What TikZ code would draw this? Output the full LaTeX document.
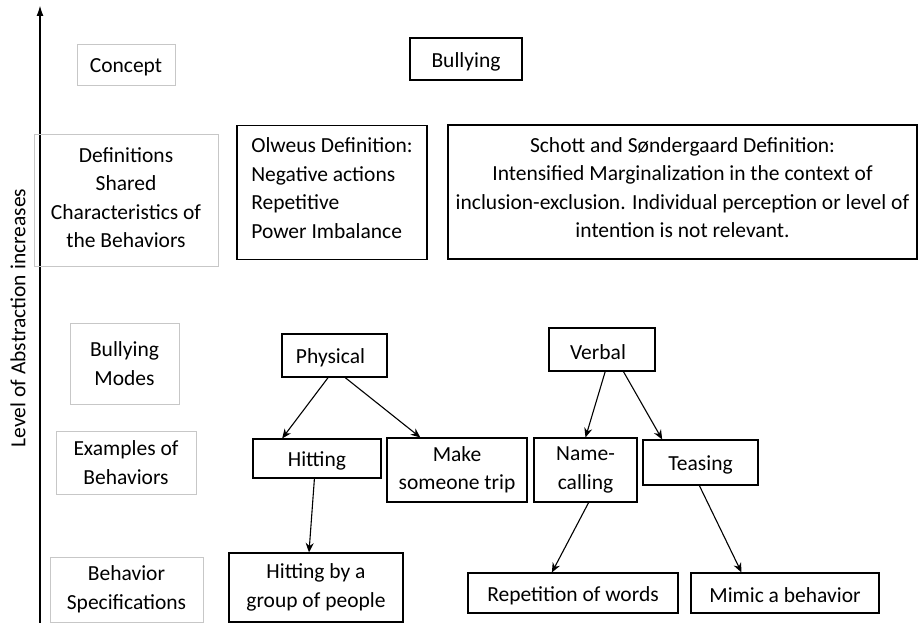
\documentclass[tikz,border=0pt]{standalone}
\usepackage{fontspec}
\setmainfont{Carlito}
\usetikzlibrary{arrows.meta,calc}
\newcommand{\lowtxt}[1]{\raisebox{-2.5pt}[\height][\depth]{#1}}
\begin{document}
\begin{tikzpicture}[x=1pt,y=-1pt,
  txt/.style={font=\fontsize{21.5}{28.5}\selectfont, align=center, inner sep=0pt},
  gbox/.style={txt, draw=black!22, line width=0.9pt},
  bbox/.style={txt, draw=black, line width=1.1pt},
  conn/.style={line width=1.1pt, -{Stealth[length=9.5pt,width=8pt]}}]
\useasboundingbox (0,0) rectangle (918,623);
% axis
\coordinate (axb) at (40,623);
\coordinate (axt) at (40,5);
\draw[line width=1.8pt, -{Latex[length=11pt,width=7pt]}] (axb) -- (axt);
\node[txt, rotate=90] (axlabel) at (18,318) {Level of Abstraction increases};
% left column
\node[gbox, minimum width=98, minimum height=41] (concept) at (126,65) {\lowtxt{Concept}};
\node[gbox, minimum width=184, minimum height=132] (defs) at (126,200) {Definitions\\Shared\\Characteristics of\\the Behaviors\\[-24pt]};
\node[gbox, minimum width=109, minimum height=81] (modes) at (124.5,363.5) {Bullying\\Modes};
\node[gbox, minimum width=140, minimum height=63] (examples) at (126,462.5) {Examples of\\Behaviors};
\node[gbox, minimum width=153, minimum height=65] (specs) at (126.5,589.5) {Behavior\\Specifications};
% right part
\node[bbox, minimum width=112, minimum height=42] (bully) at (466,59) {\lowtxt{Bullying}};
\node[bbox, minimum width=190, minimum height=134, align=left] (olweus) at (332,192.5) {Olweus Definition:\\Negative actions\\Repetitive\\Power Imbalance\\[-20pt]};
\node[bbox, minimum width=469, minimum height=134] (schott) at (682.5,192) {Schott and Søndergaard Definition:\\Intensified Marginalization in the context of\\inclusion-exclusion. Individual perception or level of\\intention is not relevant.\\[-20pt]};
\node[bbox, minimum width=105, minimum height=43] (phys) at (334.5,355.5) {\hspace*{-8pt}\lowtxt{Physical}};
\node[bbox, minimum width=106, minimum height=43] (verbal) at (602,349.5) {\hspace*{-8pt}\lowtxt{Verbal}};
\node[bbox, minimum width=128, minimum height=39] (hit) at (317,458.5) {\lowtxt{Hitting}};
\node[bbox, minimum width=140, minimum height=64] (trip) at (457,470) {Make\\someone trip};
\node[bbox, minimum width=103, minimum height=64] (name) at (585.5,470) {Name-\\calling};
\node[bbox, minimum width=115, minimum height=45] (tease) at (700.5,462.5) {\lowtxt{Teasing}};
\node[bbox, minimum width=174, minimum height=69] (group) at (316,587.5) {Hitting by a\\group of people};
\node[bbox, minimum width=210, minimum height=40] (rep) at (573,593) {\lowtxt{Repetition of words}};
\node[bbox, minimum width=188, minimum height=40] (mimic) at (785,593) {\lowtxt{Mimic a behavior}};
% connectors
\draw[conn] ($(phys.south west)!0.44!(phys.south east)$) -- ($(hit.north west)!0.23!(hit.north east)$);
\draw[conn] ($(phys.south west)!0.60!(phys.south east)$) -- ($(trip.north west)!0.24!(trip.north east)$);
\draw[conn] ($(verbal.south west)!0.53!(verbal.south east)$) -- ($(name.north west)!0.50!(name.north east)$);
\draw[conn] ($(verbal.south west)!0.70!(verbal.south east)$) -- ($(tease.north west)!0.17!(tease.north east)$);
\draw[conn] ($(hit.south west)!0.48!(hit.south east)$) -- ($(group.north west)!0.46!(group.north east)$);
\draw[conn] ($(name.south west)!0.53!(name.south east)$) -- ($(rep.north west)!0.40!(rep.north east)$);
\draw[conn] ($(tease.south west)!0.49!(tease.south east)$) -- ($(mimic.north west)!0.27!(mimic.north east)$);
\end{tikzpicture}
\end{document}
